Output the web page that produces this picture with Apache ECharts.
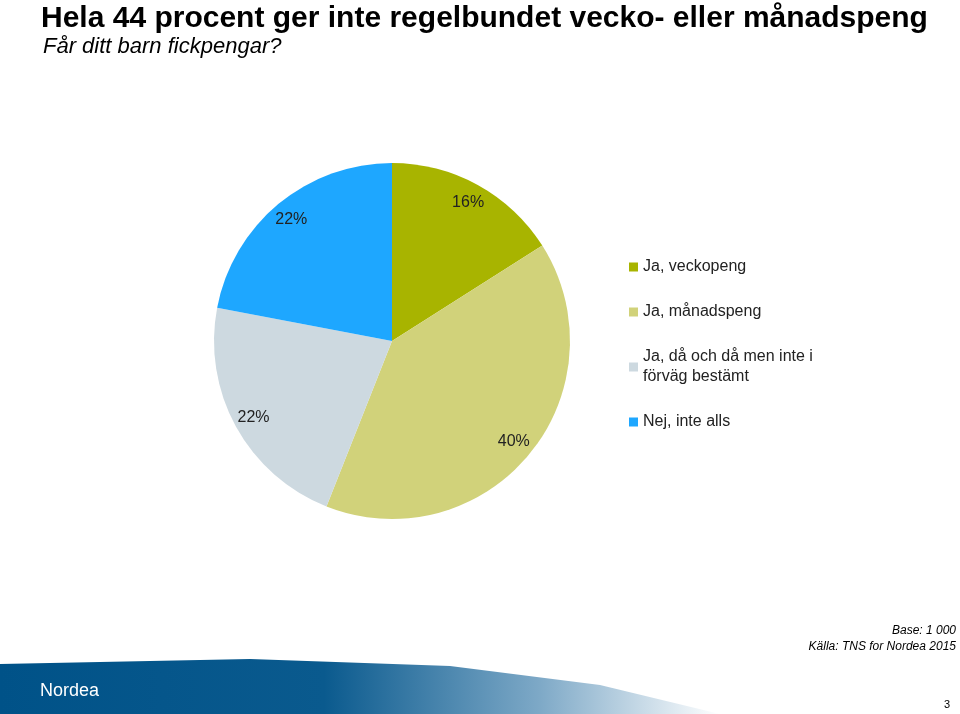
<!DOCTYPE html>
<html>
<head>
<meta charset="utf-8">
<title>Fickpengar</title>
<script src="https://cdn.jsdelivr.net/npm/echarts@6/dist/echarts.min.js"></script>
<style>html,body{margin:0;padding:0;background:#fff}</style>
</head>
<body>
<div id="main" style="width:960px;height:714px;"></div>
<script type="text/javascript">
    // svar på frågan
    var categories = ['Ja, veckopeng', 'Ja, månadspeng', 'Ja, då och då men inte i\nförväg bestämt', 'Nej, inte alls'];
    var values = [16, 40, 22, 22];
    var colors = ['#A8B400', '#D1D27A', '#CDD9E0', '#1EA7FF'];

    var pieData = [];
    for (var i = 0; i < categories.length; i++) {
        pieData.push({ name: categories[i], value: values[i], itemStyle: { color: colors[i] } });
    }

    var myChart = echarts.init(document.getElementById('main'));
    myChart.setOption({
        animation: false,
        title: [
            { text: 'Hela 44 procent ger inte regelbundet vecko- eller månadspeng', left: 36, top: -1,
              textStyle: { fontFamily: 'Liberation Sans', fontSize: 30, fontWeight: 'bold', color: '#000' } },
            { text: 'Får ditt barn fickpengar?', left: 38, top: 31,
              textStyle: { fontFamily: 'Liberation Sans', fontSize: 22, fontStyle: 'italic', fontWeight: 'normal', color: '#000' } }
        ],
        legend: {
            orient: 'vertical', left: 624, top: 252,
            itemWidth: 9, itemHeight: 9, itemGap: 25, icon: 'rect',
            data: categories,
            textStyle: { fontFamily: 'Liberation Sans', fontSize: 16, color: '#222', lineHeight: 20 }
        },
        graphic: [
            { type: 'polygon', z: -1,
              shape: { points: [[0, 664], [250, 659], [450, 666], [600, 685], [720, 714], [0, 714]] },
              style: { fill: new echarts.graphic.LinearGradient(0, 0, 1, 0, [
                  { offset: 0, color: '#005288' }, { offset: 0.45, color: '#0a5a8e' },
                  { offset: 0.75, color: '#7ea9c7' }, { offset: 1, color: '#ffffff' }]) } },
            { type: 'text', left: 40, top: 682,
              style: { text: 'Nordea', fill: '#fff', font: '18px "Liberation Sans"' } },
            { type: 'text', x: 956, y: 623,
              style: { text: 'Base: 1 000\nKälla: TNS for Nordea 2015', align: 'right', fill: '#000',
                       font: 'italic 12px "Liberation Sans"', lineHeight: 16 } },
            { type: 'text', x: 950, y: 699,
              style: { text: '3', align: 'right', fill: '#000', font: '11px "Liberation Sans"' } }
        ],
        series: [
            {
                type: 'pie', center: [392, 341], radius: 178, startAngle: 90, clockwise: true,
                label: { show: false }, labelLine: { show: false }, silent: true,
                data: pieData
            },
            {
                // osynlig ring bara för etiketternas placering
                type: 'pie', center: [392, 341], radius: 310, startAngle: 90, clockwise: true,
                silent: true, legendHoverLink: false,
                itemStyle: { color: 'rgba(0,0,0,0)' },
                label: { show: true, position: 'inside', formatter: '{c}%',
                         fontFamily: 'Liberation Sans', fontSize: 16, color: '#222' },
                labelLine: { show: false },
                data: values.map(function (v, i) { return { name: 'l' + i, value: v, itemStyle: { color: 'rgba(0,0,0,0)' } }; })
            }
        ]
    });
</script>
</body>
</html>
